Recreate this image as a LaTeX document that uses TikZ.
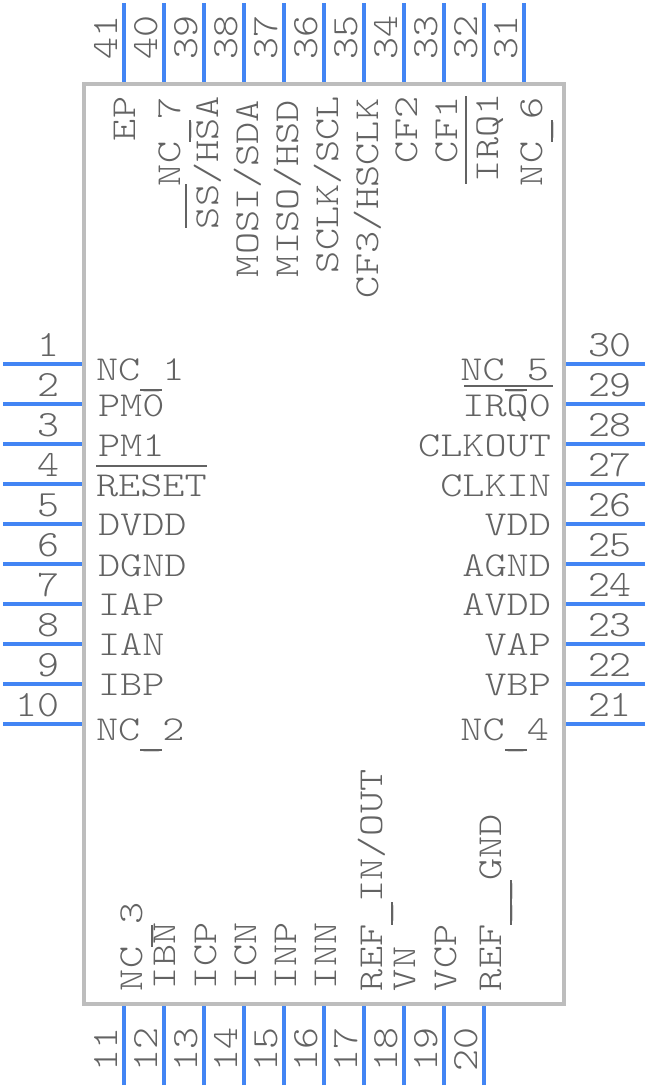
\documentclass[tikz,border=0pt]{standalone}
\usepackage{fontspec}
\newfontfamily\symfont[FakeStretch=1.205]{Latin Modern Mono Light}
\newfontfamily\numfont[FakeStretch=1.13]{Latin Modern Mono Light}
\newcommand\lowbar{\makebox[22.1pt][l]{\rlap{\smash{\rule[-11.05pt]{22.1pt}{2.1pt}}}\makebox[22.1pt]{\smash{\raisebox{-5pt}{\_}}}}}
\definecolor{pinblue}{HTML}{4285F4}
\definecolor{bodygray}{HTML}{BDBDBD}
\definecolor{txtgray}{HTML}{636363}
\tikzset{
  x=1pt,y=-1pt,
  every node/.style={inner sep=0pt,outer sep=0pt,text=txtgray,font=\symfont\fontsize{35}{35}\selectfont},
  pinnum/.style={font=\numfont\fontsize{37}{37}\selectfont},
  bodybox/.style={draw=bodygray,line width=4pt,rectangle,minimum width=480pt,minimum height=920pt},
  pinline/.style={draw=pinblue,line width=3.6pt},
  lblL/.style={anchor=base west},
  lblR/.style={anchor=base east},
  lblV/.style={anchor=base west,rotate=90},
  barline/.style={draw=txtgray,line width=2pt}
}
\begin{document}
\begin{tikzpicture}
\useasboundingbox (0,0) rectangle (648,1088);
\node[bodybox] (body) at (324,544) {};
% left and right pins
\foreach \n/\m [count=\i from 0] in {1/30,2/29,3/28,4/27,5/26,6/25,7/24,8/23,9/22,10/21}{
  \pgfmathsetmacro{\yy}{364+40*\i}
  \pgfmathsetmacro{\yb}{356+40*\i}
  \coordinate (pL\n) at (3,\yy);
  \coordinate (pR\m) at (645,\yy);
  \draw[pinline,shorten >=2pt] (pL\n) -- (body.west |- pL\n);
  \draw[pinline,shorten >=2pt] (pR\m) -- (body.east |- pR\m);
  \node[pinnum,anchor=base east] (nL\n) at (59,\yb) {\n};
  \node[pinnum,anchor=base west] (nR\m) at (588,\yb) {\m};
}
% top pins
\foreach \n [count=\i from 0] in {41,40,39,38,37,36,35,34,33,32,31}{
  \pgfmathsetmacro{\xx}{124+40*\i}
  \pgfmathsetmacro{\xb}{117+40*\i}
  \coordinate (pT\n) at (\xx,3);
  \draw[pinline,shorten >=2pt] (pT\n) -- (pT\n |- body.north);
  \node[pinnum,lblV] (nT\n) at (\xb,59) {\n};
}
% bottom pins
\foreach \n [count=\i from 0] in {11,12,13,14,15,16,17,18,19,20}{
  \pgfmathsetmacro{\xx}{124+40*\i}
  \pgfmathsetmacro{\xb}{117+40*\i}
  \coordinate (pB\n) at (\xx,1085);
  \draw[pinline,shorten >=2pt] (pB\n) -- (pB\n |- body.south);
  \node[pinnum,lblV] (nB\n) at (\xb,1071) {\n};
}
% left labels
\node[lblL] (l1) at (96,380) {NC\lowbar1};
\node[lblL] (l2) at (98,416) {PM0};
\node[lblL] (l3) at (98,456) {PM1};
\node[lblL] (l4) at (96,496) {RESET};
\node[lblL] (l5) at (98,535) {DVDD};
\node[lblL] (l6) at (98,576) {DGND};
\node[lblL] (l7) at (98,615) {IAP};
\node[lblL] (l8) at (98,655) {IAN};
\node[lblL] (l9) at (98,695) {IBP};
\node[lblL] (l10) at (96,740) {NC\lowbar2};
% right labels
\node[lblR] (r30) at (549,380) {NC\lowbar5};
\node[lblR] (r29) at (551,416) {IRQ0};
\node[lblR] (r28) at (551,456) {CLKOUT};
\node[lblR] (r27) at (551,496) {CLKIN};
\node[lblR] (r26) at (551,535) {VDD};
\node[lblR] (r25) at (551,576) {AGND};
\node[lblR] (r24) at (551,615) {AVDD};
\node[lblR] (r23) at (551,655) {VAP};
\node[lblR] (r22) at (551,695) {VBP};
\node[lblR] (r21) at (549,740) {NC\lowbar4};
% top labels
\node[lblV] (t41) at (135,141) {EP};
\node[lblV] (t40) at (180,186) {NC\lowbar7};
\node[lblV] (t39) at (218,229) {SS/HSA};
\node[lblV] (t38) at (258,277) {MOSI/SDA};
\node[lblV] (t37) at (298,277) {MISO/HSD};
\node[lblV] (t36) at (338,273) {SCLK/SCL};
\node[lblV] (t35) at (378,298) {CF3/HSCLK};
\node[lblV] (t34) at (417,163) {CF2};
\node[lblV] (t33) at (457,163) {CF1};
\node[lblV] (t32) at (498,182) {IRQ1};
\node[lblV] (t31) at (542,186) {NC\lowbar6};
% bottom labels
\node[lblV] (b11) at (142,991) {NC\lowbar3};
\node[lblV] (b12) at (175,989) {IBN};
\node[lblV] (b13) at (216,989) {ICP};
\node[lblV] (b14) at (256,989) {ICN};
\node[lblV] (b15) at (296,989) {INP};
\node[lblV] (b16) at (336,989) {INN};
\node[lblV] (b17) at (382,991) {REF\lowbar IN/OUT};
\node[lblV] (b18) at (415,991) {VN};
\node[lblV] (b19) at (456,991) {VCP};
\node[lblV] (b20) at (501,991) {REF\lowbar\lowbar GND};
% active-low bars
\draw[barline] (96,466) -- (207,466);
\draw[barline] (464,386) -- (553,386);
\draw[barline] (186,184) -- (186,228);
\draw[barline] (466,96) -- (466,184);
\end{tikzpicture}
\end{document}
